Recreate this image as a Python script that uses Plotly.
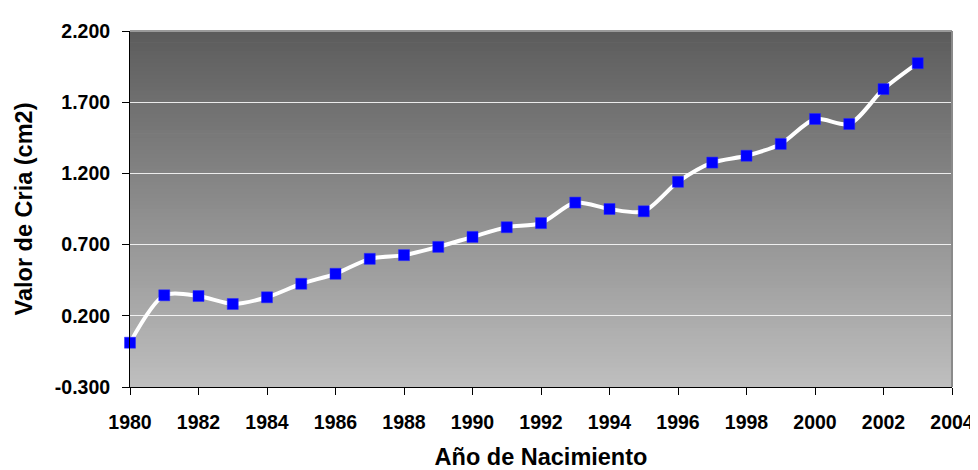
import plotly.graph_objects as go

years = list(range(1980, 2004))
valor_cria = [0.011, 0.344, 0.339, 0.283, 0.330, 0.425, 0.495, 0.600, 0.626, 0.684,
              0.754, 0.822, 0.851, 0.995, 0.950, 0.934, 1.141, 1.276, 1.324, 1.407,
              1.582, 1.547, 1.792, 1.974]
y_ticks = [-0.3, 0.2, 0.7, 1.2, 1.7, 2.2]
y_tick_labels = ["-0.300", "0.200", "0.700", "1.200", "1.700", "2.200"]
x_title = "Año de Nacimiento"
y_title = "Valor de Cria (cm2)"

FONT = "Liberation Sans, Arial, sans-serif"

fig = go.Figure()
fig.add_trace(go.Scatter(
    x=years, y=valor_cria, mode="lines+markers",
    line=dict(color="white", width=4, shape="spline", smoothing=0.8),
    marker=dict(symbol="square", size=11, color="#0000ff",
                line=dict(color="#2a2aff", width=0.5)),
    cliponaxis=False, showlegend=False,
))

# vertical gradient background of the plot area
n = 90
top = (92, 92, 92)
bot = (190, 190, 190)
shapes = []
for i in range(n):
    t = i / (n - 1)
    c = tuple(round(bot[k] + (top[k] - bot[k]) * t) for k in range(3))
    shapes.append(dict(type="rect", xref="x domain", yref="y domain",
                       x0=0, x1=1, y0=i / n, y1=(i + 1) / n + 0.002,
                       fillcolor="rgb(%d,%d,%d)" % c, line=dict(width=0),
                       layer="below"))
# grey frame on top and right
shapes.append(dict(type="line", xref="x domain", yref="y domain",
                   x0=0, x1=1, y0=1, y1=1, line=dict(color="#9a9a9a", width=2)))
shapes.append(dict(type="line", xref="x domain", yref="y domain",
                   x0=1, x1=1, y0=0, y1=1, line=dict(color="#8a8a8a", width=2)))

fig.update_layout(
    width=978, height=470,
    margin=dict(l=122, r=24, t=18, b=82),
    paper_bgcolor="white", plot_bgcolor="#a0a0a0",
    shapes=shapes,
    font=dict(family=FONT, color="black"),
    xaxis=dict(
        range=[1980, 2004], tick0=1980, dtick=2, ticks="outside", ticklen=7,
        tickcolor="black", showline=True, linecolor="black", linewidth=1,
        showgrid=False, zeroline=False, ticklabelstandoff=11,
        tickfont=dict(family=FONT, size=19.5, weight="bold"),
        title=dict(text=x_title, font=dict(family=FONT, size=23.5, weight="bold"),
                   standoff=16),
    ),
    yaxis=dict(
        range=[-0.3, 2.2], tickmode="array", tickvals=y_ticks, ticktext=y_tick_labels,
        ticks="outside",
        ticklen=7, tickcolor="black", showline=True, linecolor="black", linewidth=1,
        showgrid=True, gridcolor="rgba(255,255,255,0.85)", gridwidth=1, zeroline=False,
        ticklabelstandoff=8,
        tickfont=dict(family=FONT, size=19.5, weight="bold"),
        title=dict(text=y_title, font=dict(family=FONT, size=23.5, weight="bold"),
                   standoff=15),
    ),
)

fig.write_html("out.html")
